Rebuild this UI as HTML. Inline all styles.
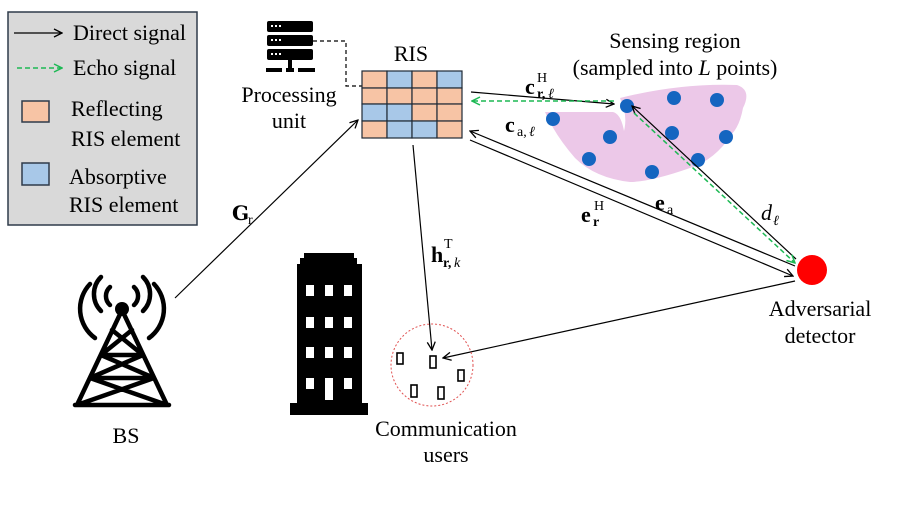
<!DOCTYPE html>
<html><head><meta charset="utf-8"><style>
body{margin:0;background:#fff}
svg{display:block;font-family:"Liberation Serif",serif}
</style></head><body>
<svg width="897" height="505" viewBox="0 0 897 505" xmlns="http://www.w3.org/2000/svg">
<defs>
<marker id="ab" markerWidth="10" markerHeight="10" refX="9" refY="5" orient="auto" markerUnits="userSpaceOnUse"><path d="M1,1 L9,5 L1,9" fill="none" stroke="#000" stroke-width="1.3"/></marker>
<marker id="ag" markerWidth="10" markerHeight="10" refX="9" refY="5" orient="auto" markerUnits="userSpaceOnUse"><path d="M1,1 L9,5 L1,9" fill="none" stroke="#1db954" stroke-width="1.5"/></marker>
</defs>
<!-- legend -->
<rect x="8" y="12" width="189" height="213" fill="#d9d9d9" stroke="#2f3b4a" stroke-width="1.5"/>
<line x1="14" y1="33" x2="62" y2="33" stroke="#000" stroke-width="1.2" marker-end="url(#ab)"/>
<text x="73" y="40" font-size="22">Direct signal</text>
<line x1="17" y1="68" x2="62" y2="68" stroke="#1db954" stroke-width="1.5" stroke-dasharray="5,3" marker-end="url(#ag)"/>
<text x="73" y="75" font-size="22">Echo signal</text>
<rect x="22" y="101" width="27" height="21" fill="#f7c4a5" stroke="#2f3b4a" stroke-width="1.5"/>
<text x="71" y="116" font-size="22">Reflecting</text>
<text x="71" y="146" font-size="22">RIS element</text>
<rect x="22" y="163" width="27" height="22" fill="#a8c8e8" stroke="#2f3b4a" stroke-width="1.5"/>
<text x="69" y="184" font-size="22">Absorptive</text>
<text x="69" y="212" font-size="22">RIS element</text>
<!-- server -->
<g fill="#000">
<rect x="267" y="21" width="46" height="11" rx="2"/><rect x="267" y="35" width="46" height="11" rx="2"/><rect x="267" y="49" width="46" height="11" rx="2"/>
<rect x="288" y="60" width="4" height="8"/><rect x="266" y="68" width="16" height="4"/><rect x="286" y="68" width="8" height="4"/><rect x="298" y="68" width="17" height="4"/>
</g>
<g fill="#fff"><rect x="271" y="25" width="2" height="2"/><rect x="275" y="25" width="2" height="2"/><rect x="279" y="25" width="2" height="2"/>
<rect x="271" y="39" width="2" height="2"/><rect x="275" y="39" width="2" height="2"/><rect x="279" y="39" width="2" height="2"/>
<rect x="271" y="53" width="2" height="2"/><rect x="275" y="53" width="2" height="2"/><rect x="279" y="53" width="2" height="2"/></g>
<polyline points="313,41 346,41 346,86 362,86" fill="none" stroke="#000" stroke-width="1.2" stroke-dasharray="4,3"/>
<text x="289" y="102" font-size="22" text-anchor="middle">Processing</text>
<text x="289" y="128" font-size="22" text-anchor="middle">unit</text>
<text x="411" y="61" font-size="22" text-anchor="middle">RIS</text>
<!-- RIS grid -->
<g stroke="#1f2a36" stroke-width="1.2">
<rect x="362" y="71" width="25" height="17" fill="#f7c4a5"/><rect x="387" y="71" width="25" height="17" fill="#a8c8e8"/><rect x="412" y="71" width="25" height="17" fill="#f7c4a5"/><rect x="437" y="71" width="25" height="17" fill="#a8c8e8"/>
<rect x="362" y="88" width="25" height="16" fill="#f7c4a5"/><rect x="387" y="88" width="25" height="16" fill="#f7c4a5"/><rect x="412" y="88" width="25" height="16" fill="#f7c4a5"/><rect x="437" y="88" width="25" height="16" fill="#f7c4a5"/>
<rect x="362" y="104" width="25" height="17" fill="#a8c8e8"/><rect x="387" y="104" width="25" height="17" fill="#a8c8e8"/><rect x="412" y="104" width="25" height="17" fill="#f7c4a5"/><rect x="437" y="104" width="25" height="17" fill="#f7c4a5"/>
<rect x="362" y="121" width="25" height="17" fill="#f7c4a5"/><rect x="387" y="121" width="25" height="17" fill="#a8c8e8"/><rect x="412" y="121" width="25" height="17" fill="#a8c8e8"/><rect x="437" y="121" width="25" height="17" fill="#f7c4a5"/>
</g>
<!-- sensing region -->
<path d="M620,98 Q680,83 737,85 Q752,90 743,108 Q740,125 732,134 Q715,160 690,168 Q650,182 630,182 Q595,178 575,158 Q555,135 545,112 L613,112 Q621,114 624,131 Q628,115 620,98 Z" fill="#ecc8e8"/>
<g fill="#1565c0">
<circle cx="627" cy="106" r="7"/><circle cx="674" cy="98" r="7"/><circle cx="717" cy="100" r="7"/><circle cx="553" cy="119" r="7"/><circle cx="610" cy="137" r="7"/><circle cx="672" cy="133" r="7"/><circle cx="726" cy="137" r="7"/><circle cx="589" cy="159" r="7"/><circle cx="652" cy="172" r="7"/><circle cx="698" cy="160" r="7"/>
</g>
<text x="675" y="48" font-size="22" text-anchor="middle">Sensing region</text>
<text x="675" y="75" font-size="22" text-anchor="middle">(sampled into <tspan font-style="italic">L</tspan> points)</text>
<!-- arrows -->
<line x1="175" y1="298" x2="358" y2="120" stroke="#000" stroke-width="1.2" marker-end="url(#ab)"/>
<line x1="413" y1="145" x2="432" y2="350" stroke="#000" stroke-width="1.2" marker-end="url(#ab)"/>
<line x1="471" y1="92" x2="614" y2="104" stroke="#000" stroke-width="1.2" marker-end="url(#ab)"/>
<line x1="614" y1="101" x2="472" y2="101" stroke="#1db954" stroke-width="1.5" stroke-dasharray="5,3" marker-end="url(#ag)"/>
<line x1="795" y1="266" x2="470" y2="131" stroke="#000" stroke-width="1.2" marker-end="url(#ab)"/>
<line x1="470" y1="140" x2="793" y2="276" stroke="#000" stroke-width="1.2" marker-end="url(#ab)"/>
<line x1="796" y1="259" x2="632" y2="106" stroke="#000" stroke-width="1.2" marker-end="url(#ab)"/>
<line x1="634" y1="113" x2="795" y2="263" stroke="#1db954" stroke-width="1.5" stroke-dasharray="5,3" marker-end="url(#ag)"/>
<line x1="795" y1="281" x2="443" y2="358" stroke="#000" stroke-width="1.2" marker-end="url(#ab)"/>
<circle cx="812" cy="270" r="15" fill="#ff0000"/>
<text x="820" y="316" font-size="22" text-anchor="middle">Adversarial</text>
<text x="820" y="343" font-size="22" text-anchor="middle">detector</text>
<!-- labels -->
<text x="232" y="220" font-size="20" font-weight="bold" font-family="DejaVu Serif,serif">G</text><text x="248" y="224" font-size="14">r</text>
<text x="525" y="94" font-size="22" font-weight="bold">c</text><text x="537" y="98" font-size="14" font-weight="bold">r,</text><text x="548" y="98" font-size="14" font-style="italic">ℓ</text><text x="537" y="82" font-size="14">H</text>
<text x="505" y="132" font-size="22" font-weight="bold">c</text><text x="517" y="136" font-size="14">a,</text><text x="529" y="136" font-size="14" font-style="italic">ℓ</text>
<text x="581" y="222" font-size="22" font-weight="bold">e</text><text x="593" y="226" font-size="14" font-weight="bold">r</text><text x="594" y="210" font-size="14">H</text>
<text x="655" y="210" font-size="22" font-weight="bold">e</text><text x="667" y="214" font-size="14">a</text>
<text x="761" y="220" font-size="22" font-style="italic">d</text><text x="773" y="225" font-size="14" font-style="italic">ℓ</text>
<text x="431" y="262" font-size="22" font-weight="bold">h</text><text x="443" y="267" font-size="14" font-weight="bold">r,</text><text x="454" y="267" font-size="14" font-style="italic">k</text><text x="444" y="248" font-size="14">T</text>
<!-- tower -->
<g fill="none" stroke="#000" stroke-width="4.5" stroke-linecap="round">
<path d="M101,277 A24,24 0 0 0 101,311"/><path d="M143,277 A24,24 0 0 1 143,311"/>
<path d="M90,284 A36,36 0 0 0 95,338"/><path d="M154,284 A36,36 0 0 1 149,338"/>
<path d="M110,287 A12,12 0 0 0 110,305"/><path d="M134,287 A12,12 0 0 1 134,305"/>
<path d="M122,310 L77,405 M122,310 L167,405 M75,405 L169,405 M101,355 L143,355 M90,378 L154,378 M112,330 L143,355 M132,330 L101,355 M101,355 L154,378 M143,355 L90,378 M90,378 L167,405 M154,378 L77,405"/>
</g>
<circle cx="122" cy="309" r="7" fill="#000"/>
<text x="126" y="443" font-size="22" text-anchor="middle">BS</text>
<!-- building -->
<g fill="#000"><path d="M304,253 L354,253 L354,258 L357,258 L357,264 L362,264 L362,403 L368,403 L368,415 L290,415 L290,403 L297,403 L297,264 L300,264 L300,258 L304,258 Z"/></g>
<g fill="#fff">
<rect x="306" y="285" width="8" height="11"/><rect x="325" y="285" width="8" height="11"/><rect x="344" y="285" width="8" height="11"/>
<rect x="306" y="317" width="8" height="11"/><rect x="325" y="317" width="8" height="11"/><rect x="344" y="317" width="8" height="11"/>
<rect x="306" y="347" width="8" height="11"/><rect x="325" y="347" width="8" height="11"/><rect x="344" y="347" width="8" height="11"/>
<rect x="306" y="378" width="8" height="11"/><rect x="325" y="378" width="8" height="22"/><rect x="344" y="378" width="8" height="11"/>
</g>
<!-- users -->
<circle cx="432" cy="365" r="41" fill="none" stroke="#e05050" stroke-width="1" stroke-dasharray="2,2"/>
<g fill="none" stroke="#000" stroke-width="1.6">
<rect x="397" y="353" width="6" height="11"/><rect x="430" y="356" width="6" height="12"/><rect x="458" y="370" width="6" height="11"/><rect x="411" y="385" width="6" height="12"/><rect x="438" y="387" width="6" height="12"/>
</g>
<text x="446" y="436" font-size="22" text-anchor="middle">Communication</text>
<text x="446" y="462" font-size="22" text-anchor="middle">users</text>
</svg>
</body></html>
